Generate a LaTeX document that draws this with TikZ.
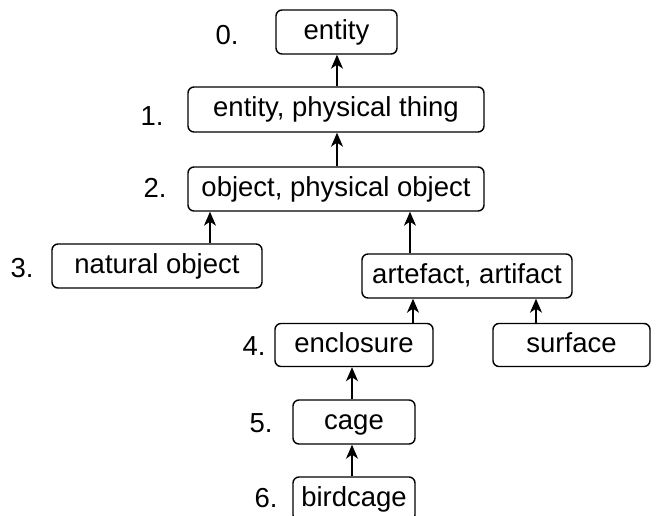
\documentclass[tikz,border=0pt]{standalone}
\usepackage{fontspec}
\setmainfont{Liberation Sans}
\usetikzlibrary{arrows.meta}
\begin{document}
\begin{tikzpicture}[x=1pt,y=-1pt,
  box/.style={draw,line width=1.4pt,rounded corners=6pt,inner sep=0pt,
    font=\fontsize{27.5}{32}\selectfont,text height=20pt,text depth=6pt},
  num/.style={font=\fontsize{27.5}{32}\selectfont,inner sep=0pt,text height=20pt,text depth=0pt},
  arr/.style={line width=1.4pt,-{Stealth[length=14pt,width=12pt,inset=4pt]}}]
\useasboundingbox (0,0) rectangle (657,515);
\clip (0,0) rectangle (657,515);
\node[box,minimum width=121pt,minimum height=44pt] (ent) at (336.5,32) {entity};
\node[box,minimum width=296pt,minimum height=45pt] (eph) at (336,109.5) {entity, physical thing};
\node[box,minimum width=296pt,minimum height=44pt] (obj) at (336,189) {object, physical object};
\node[box,minimum width=210pt,minimum height=44pt] (nat) at (157,266) {natural object};
\node[box,minimum width=210pt,minimum height=44pt] (art) at (467,276) {artefact, artifact};
\node[box,minimum width=158pt,minimum height=43pt] (enc) at (354,345) {enclosure};
\node[box,minimum width=157pt,minimum height=43pt] (sur) at (571.5,345) {surface};
\node[box,minimum width=122pt,minimum height=44pt] (cag) at (354,422) {cage};
\node[box,minimum width=122pt,minimum height=44pt] (bir) at (354,499) {birdcage};
\node[num] (n0) at (227,34) {0.};
\node[num] (n1) at (152,115) {1.};
\node[num] (n2) at (155,187) {2.};
\node[num] (n3) at (22,267) {3.};
\node[num] (n4) at (254,345) {4.};
\node[num] (n5) at (261,422) {5.};
\node[num] (n6) at (266,497) {6.};
\coordinate (xa) at (337,0);
\coordinate (xn) at (210,0);
\coordinate (xr) at (410,0);
\coordinate (xe) at (413,0);
\coordinate (xs) at (536,0);
\coordinate (xc) at (352,0);
\draw[arr] (eph.north -| xa) -- (ent.south -| xa);
\draw[arr] (obj.north -| xa) -- (eph.south -| xa);
\draw[arr] (nat.north -| xn) -- (obj.south -| xn);
\draw[arr] (art.north -| xr) -- (obj.south -| xr);
\draw[arr] (enc.north -| xe) -- (art.south -| xe);
\draw[arr] (sur.north -| xs) -- (art.south -| xs);
\draw[arr] (cag.north -| xc) -- (enc.south -| xc);
\draw[arr] (bir.north -| xc) -- (cag.south -| xc);
\end{tikzpicture}
\end{document}
